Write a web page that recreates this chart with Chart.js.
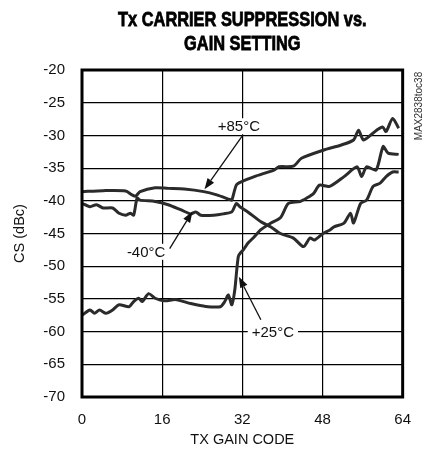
<!DOCTYPE html>
<html>
<head>
<meta charset="utf-8">
<script src="https://cdn.jsdelivr.net/npm/chart.js@4.4.1/dist/chart.umd.min.js"></script>
<style>
  html, body { margin: 0; padding: 0; background: #fff; }
  #wrap { width: 425px; height: 454px; }
</style>
</head>
<body>
<div id="wrap"><canvas id="c" width="425" height="454"></canvas></div>
<script>
// ---- data ----
const xTicks = [0, 16, 32, 48, 64];
const yTicks = [-70, -65, -60, -55, -50, -45, -40, -35, -30, -25, -20];
const titleLines = ['Tx CARRIER SUPPRESSION vs.', 'GAIN SETTING'];

const code85 = [0, 4.2, 8.7, 10.0, 10.7, 11.6, 14.6, 17.2, 20.4, 24.3, 26.9, 29.5, 29.9, 30.8, 31.8, 34.4, 38.3, 39.3, 42.2, 43.8, 48.4, 51.6, 54.2, 55.2, 56.2, 58.8, 60.0, 60.7, 62.0, 63.2];
const cs85   = [-38.6, -38.45, -38.5, -39.1, -39.3, -38.6, -38.0, -38.1, -38.2, -38.6, -39.1, -39.8, -39.9, -37.6, -37.1, -36.3, -35.3, -34.8, -34.7, -33.5, -32.2, -31.5, -30.7, -29.2, -30.7, -29.2, -28.7, -29.4, -27.4, -28.9];

const codeM40 = [0, 1.6, 2.9, 4.2, 6.1, 7.4, 8.7, 9.7, 10.3, 11.0, 11.6, 14.6, 17.2, 19.8, 21.7, 22.7, 23.7, 26.3, 28.2, 29.9, 30.8, 31.5, 33.1, 35.7, 37.7, 39.6, 42.2, 44.2, 45.5, 46.4, 48.1, 49.4, 50.3, 52.3, 53.6, 54.2, 55.6, 56.8, 58.1, 59.5, 60.7, 62.0, 63.2];
const csM40   = [-40.4, -40.9, -40.6, -41.1, -41.1, -41.9, -42.2, -41.9, -42.2, -39.6, -39.9, -40.1, -40.6, -41.4, -42.0, -41.7, -42.2, -42.2, -42.0, -41.7, -40.4, -40.9, -41.7, -43.2, -44.0, -45.0, -45.7, -47.0, -45.7, -46.0, -45.0, -44.5, -44.0, -43.4, -41.9, -43.4, -40.4, -39.9, -37.8, -37.3, -36.3, -35.6, -35.6];

const code25 = [0, 1.6, 2.5, 3.5, 4.8, 6.1, 7.4, 9.4, 10.3, 11.3, 12.0, 13.3, 14.6, 16.5, 18.5, 19.8, 21.7, 24.3, 27.6, 28.5, 29.2, 29.9, 30.5, 31.2, 31.8, 32.2, 33.1, 34.4, 35.7, 37.7, 39.6, 41.2, 43.5, 44.8, 46.2, 47.4, 49.4, 52.3, 54.9, 55.8, 56.8, 58.7, 60.1, 61.1, 63.2];
const cs25   = [-57.5, -56.7, -57.2, -56.7, -57.2, -56.7, -55.9, -56.2, -55.4, -54.9, -55.4, -54.2, -54.9, -55.3, -55.1, -55.3, -55.7, -56.1, -56.2, -55.4, -54.4, -55.9, -53.6, -48.5, -47.8, -47.5, -46.5, -45.5, -44.4, -43.4, -42.6, -40.4, -40.1, -39.6, -38.9, -37.6, -37.8, -36.3, -34.8, -36.3, -34.8, -35.3, -31.7, -32.7, -32.9];

// annotations (data units): label, label position, arrow start, arrow tip
const noteLabels = ['+85°C', '-40°C', '+25°C'];
const noteText   = [[31.3, -28.6], [12.8, -47.8], [38.1, -60.0]];
const noteFrom   = [[32.1, -29.95], [17.5, -47.3], [35.7, -58.2]];
const noteTip    = [[24.45, -38.25], [22.05, -41.65], [31.3, -51.6]];

const FONT = "'Liberation Sans', Arial, sans-serif";

function pts(xs, ys) { return xs.map((x, i) => ({ x: x, y: ys[i] })); }

const curveStyle = { borderColor: '#2b2b2b', borderWidth: 3, pointRadius: 0, tension: 0.25, fill: false };

const decor = {
  id: 'decor',
  afterDatasetsDraw(chart) {
    const ctx = chart.ctx, xs = chart.scales.x, ys = chart.scales.y, a = chart.chartArea;
    ctx.save();
    // annotations
    ctx.font = '15px ' + FONT;
    ctx.textAlign = 'center';
    ctx.textBaseline = 'middle';
    for (let i = 0; i < noteLabels.length; i++) {
      const tx = xs.getPixelForValue(noteText[i][0]), ty = ys.getPixelForValue(noteText[i][1]);
      const w = ctx.measureText(noteLabels[i]).width;
      ctx.fillStyle = '#fff';
      ctx.fillRect(tx - w / 2 - 4, ty - 8, w + 8, 16);
      ctx.fillStyle = '#111';
      ctx.fillText(noteLabels[i], tx, ty + 1);
      const x0 = xs.getPixelForValue(noteFrom[i][0]), y0 = ys.getPixelForValue(noteFrom[i][1]);
      const x1 = xs.getPixelForValue(noteTip[i][0]), y1 = ys.getPixelForValue(noteTip[i][1]);
      const ang = Math.atan2(y1 - y0, x1 - x0);
      const L = 11, W = 4;
      const bx = x1 - L * Math.cos(ang), by = y1 - L * Math.sin(ang);
      ctx.strokeStyle = '#111';
      ctx.lineWidth = 1.3;
      ctx.beginPath(); ctx.moveTo(x0, y0); ctx.lineTo(bx, by); ctx.stroke();
      ctx.beginPath();
      ctx.moveTo(x1, y1);
      ctx.lineTo(bx + W * Math.sin(ang), by - W * Math.cos(ang));
      ctx.lineTo(bx - W * Math.sin(ang), by + W * Math.cos(ang));
      ctx.closePath();
      ctx.fillStyle = '#111';
      ctx.fill();
    }
    // frame
    ctx.strokeStyle = '#000';
    ctx.lineWidth = 3;
    ctx.strokeRect(a.left, a.top, a.right - a.left, a.bottom - a.top);
    ctx.restore();

    // title (bold, horizontally condensed)
    ctx.save();
    ctx.font = 'bold 21px ' + FONT;
    ctx.fillStyle = '#000';
    ctx.strokeStyle = '#000';
    ctx.lineWidth = 0.8;
    ctx.textAlign = 'center';
    ctx.textBaseline = 'middle';
    const cx = (a.left + a.right) / 2;
    titleLines.forEach((t, i) => {
      ctx.save();
      ctx.translate(cx, 20 + i * 24);
      ctx.scale(0.78, 1);
      ctx.fillText(t, 0, 0);
      ctx.strokeText(t, 0, 0);
      ctx.restore();
    });
    ctx.restore();

    // side code
    ctx.save();
    ctx.translate(419, 106);
    ctx.rotate(-Math.PI / 2);
    ctx.font = '10px ' + FONT;
    ctx.fillStyle = '#333';
    ctx.textAlign = 'center';
    ctx.textBaseline = 'middle';
    ctx.fillText('MAX2838toc38', 0, 0);
    ctx.restore();
  }
};

new Chart(document.getElementById('c'), {
  type: 'line',
  data: {
    datasets: [
      Object.assign({ label: '+85°C', data: pts(code85, cs85) }, curveStyle),
      Object.assign({ label: '-40°C', data: pts(codeM40, csM40) }, curveStyle),
      Object.assign({ label: '+25°C', data: pts(code25, cs25) }, curveStyle)
    ]
  },
  options: {
    responsive: false,
    animation: false,
    devicePixelRatio: 1,
    layout: { padding: { top: 70, right: 15, left: 0, bottom: 0 } },
    plugins: {
      legend: { display: false },
      tooltip: { enabled: false },
      title: { display: false }
    },
    scales: {
      x: {
        type: 'linear', min: 0, max: 64,
        afterBuildTicks(s) { s.ticks = xTicks.map(v => ({ value: v })); },
        afterFit(s) { s.height = 57; },
        grid: { color: '#000', lineWidth: 1.2, drawTicks: false },
        border: { display: false },
        ticks: { color: '#111', padding: 14, font: { family: FONT, size: 15 }, maxRotation: 0 },
        title: { display: true, text: 'TX GAIN CODE', color: '#111', font: { family: FONT, size: 14.5 }, padding: { top: 0, bottom: 5 } }
      },
      y: {
        type: 'linear', min: -70, max: -20,
        afterBuildTicks(s) { s.ticks = yTicks.map(v => ({ value: v })); },
        afterFit(s) { s.width = 82; },
        grid: { color: '#000', lineWidth: 1.2, drawTicks: false },
        border: { display: false },
        ticks: { color: '#111', padding: 17, font: { family: FONT, size: 15 } },
        title: { display: true, text: 'CS (dBc)', color: '#111', font: { family: FONT, size: 14.5 }, padding: { top: 11, bottom: 0 } }
      }
    }
  },
  plugins: [decor]
});
</script>
</body>
</html>
